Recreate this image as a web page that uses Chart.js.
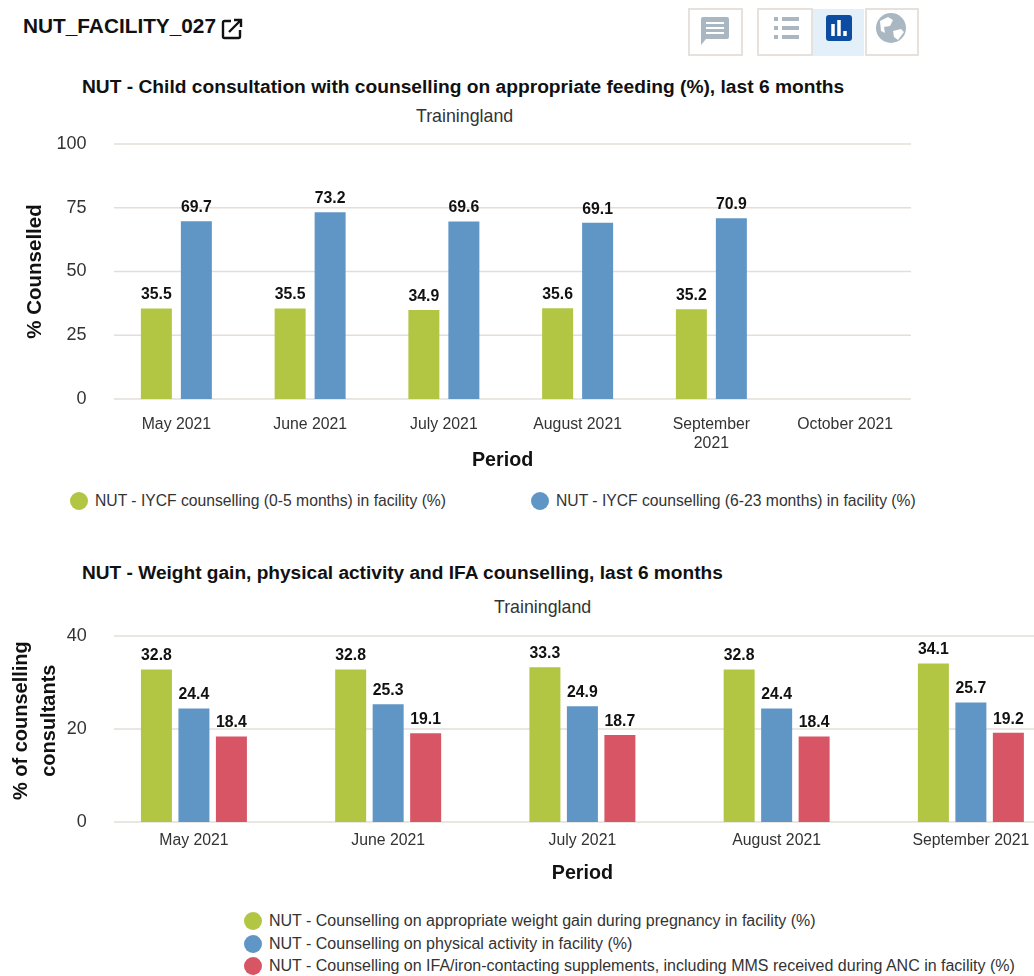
<!DOCTYPE html>
<html>
<head>
<meta charset="utf-8">
<title>NUT_FACILITY_027</title>
<script src="https://cdn.jsdelivr.net/npm/chart.js@4"></script>
<style>
  html, body { margin: 0; padding: 0; background: #fff; overflow: hidden; }
  body { width: 1034px; height: 976px; position: relative; font-family: "Liberation Sans", sans-serif; color: #111; }
  .abs { position: absolute; white-space: nowrap; }
  canvas { position: absolute; left: 0; }
  .btn { position: absolute; top: 8px; height: 44px; border: 2px solid #e6e1dc; background: #fff; }
  .dot { display: inline-block; width: 18px; height: 18px; border-radius: 50%; }
  .leg { color: #333; line-height: 18px; display: flex; align-items: center; gap: 7px; }
  .legA { font-size: 15.700px; }
  .legB { font-size: 16px; }
</style>
</head>
<body>
<div class="abs" style="left:23px;top:13px;font-size:20.800px;font-weight:bold;line-height:26px">NUT_FACILITY_027</div>
<svg class="abs" style="left:220px;top:17px" width="24" height="24" viewBox="0 0 24 24" fill="none" stroke="#111" stroke-width="2.400">
  <path d="M11 4H4.500a1.500 1.500 0 0 0-1.500 1.500v14a1.500 1.500 0 0 0 1.500 1.500h14a1.500 1.500 0 0 0 1.500-1.500V13"/>
  <path d="M9 15L21 3M14 3h7v7"/>
</svg>

<div class="btn" style="left:688px;width:51px"><svg width="51" height="44"><path d="M13 7h24a2 2 0 0 1 2 2v18a2 2 0 0 1-2 2H16l-5 6V9a2 2 0 0 1 2-2z" fill="#a9b7c3"/><path d="M16 13h18M16 18h18M16 23h18" stroke="#fff" stroke-width="2"/></svg></div>
<div class="btn" style="left:757px;width:52px"><svg width="52" height="44"><path d="M15 9h4M23 9h17M15 18h4M23 18h17M15 27h4M23 27h17" stroke="#a9b7c3" stroke-width="4"/></svg></div>
<div class="abs" style="left:813px;top:9px;width:51px;height:47px;background:#e3f0fa"><svg width="51" height="47"><rect x="13" y="6" width="26" height="26" rx="3" fill="#0c4da2"/><path d="M20 15v12M26 11v16M32 22v5" stroke="#fff" stroke-width="3.500"/></svg></div>
<div class="btn" style="left:865px;width:50px"><svg width="50" height="44"><circle cx="24" cy="18" r="15" fill="#a9b7c3"/><path d="M13 11l8-4 5 3-3 6-6 1 1 6-4-2zM26 21l8-2 3 3-6 8-4-3z" fill="#fff"/></svg></div>

<div class="abs" style="left:82px;top:76px;font-size:19.200px;font-weight:bold;line-height:22px">NUT - Child consultation with counselling on appropriate feeding (%), last 6 months</div>
<div class="abs" style="left:416px;top:105px;font-size:17.800px;color:#333;line-height:22px">Trainingland</div>

<canvas id="feedingChart" style="top:130px"></canvas>

<div class="abs leg legA" style="left:70px;top:492px"><span class="dot" id="legA0"></span><span id="legA0t"></span></div>
<div class="abs leg legA" style="left:531px;top:492px"><span class="dot" id="legA1"></span><span id="legA1t"></span></div>

<div class="abs" style="left:82px;top:562px;font-size:19.100px;font-weight:bold;line-height:22px">NUT - Weight gain, physical activity and IFA counselling, last 6 months</div>
<div class="abs" style="left:494px;top:596px;font-size:17.800px;color:#333;line-height:22px">Trainingland</div>

<canvas id="weightChart" style="top:620px"></canvas>

<div class="abs leg legB" style="left:244px;top:912px"><span class="dot" id="legB0"></span><span id="legB0t"></span></div>
<div class="abs leg legB" style="left:244px;top:935px"><span class="dot" id="legB1"></span><span id="legB1t"></span></div>
<div class="abs leg legB" style="left:244px;top:957px"><span class="dot" id="legB2"></span><span id="legB2t"></span></div>

<script>
const feedingPeriods = ['May 2021', 'June 2021', 'July 2021', 'August 2021', ['September', '2021'], 'October 2021'];
const iycf05 = [35.5, 35.5, 34.9, 35.6, 35.2, null];
const iycf623 = [69.7, 73.2, 69.6, 69.1, 70.9, null];
const feedingTicks = [0, 25, 50, 75, 100];

const weightPeriods = ['May 2021', 'June 2021', 'July 2021', 'August 2021', 'September 2021'];
const weightGain = [32.8, 32.8, 33.3, 32.8, 34.1];
const physicalActivity = [24.4, 25.3, 24.9, 24.4, 25.7];
const ifaSupplements = [18.4, 19.1, 18.7, 18.4, 19.2];
const weightTicks = [0, 20, 40];

const feedingNames = ['NUT - IYCF counselling (0-5 months) in facility (%)', 'NUT - IYCF counselling (6-23 months) in facility (%)'];
const weightNames = [
  'NUT - Counselling on appropriate weight gain during pregnancy in facility (%)',
  'NUT - Counselling on physical activity in facility (%)',
  'NUT - Counselling on IFA/iron-contacting supplements, including MMS received during ANC in facility (%)'
];

const GREEN = '#b2c644', BLUE = '#6096c6', RED = '#d85565';
const FONT = '"Liberation Sans", sans-serif';
const GRID = '#e3ded9';
Chart.defaults.font.family = FONT;
Chart.defaults.animation = false;

// values over the bars
const valueLabels = {
  id: 'valueLabels',
  afterDatasetsDraw(chart) {
    const ctx = chart.ctx;
    ctx.save();
    ctx.font = 'bold 15.800px ' + FONT;
    ctx.fillStyle = '#111';
    ctx.textAlign = 'center';
    ctx.textBaseline = 'bottom';
    chart.data.datasets.forEach((ds, i) => {
      chart.getDatasetMeta(i).data.forEach((bar, j) => {
        if (ds.data[j] != null) ctx.fillText(ds.data[j].toFixed(1), bar.x, bar.y - 5.5);
      });
    });
    ctx.restore();
  }
};

// grid starts a bit right of the first band, so the lines are drawn here
const gridLines = {
  id: 'gridLines',
  beforeDatasetsDraw(chart, args, opts) {
    const ctx = chart.ctx, y = chart.scales.y;
    ctx.save();
    ctx.strokeStyle = GRID;
    ctx.lineWidth = 1.5;
    y.ticks.forEach(t => {
      const py = y.getPixelForValue(t.value);
      ctx.beginPath();
      ctx.moveTo(opts.from, py);
      ctx.lineTo(opts.to, py);
      ctx.stroke();
    });
    ctx.restore();
  }
};

function makeChart(id, w, h, cfg) {
  const el = document.getElementById(id);
  el.width = w; el.height = h;
  el.style.width = w + 'px'; el.style.height = h + 'px';
  return new Chart(el, {
    type: 'bar',
    data: { labels: cfg.labels, datasets: cfg.datasets },
    plugins: [valueLabels, gridLines],
    options: {
      responsive: false,
      devicePixelRatio: 1,
      layout: { padding: cfg.padding },
      plugins: { legend: { display: false }, tooltip: { enabled: false }, gridLines: cfg.grid },
      datasets: { bar: { categoryPercentage: cfg.catPct, barPercentage: cfg.barPct } },
      scales: {
        x: {
          grid: { display: false },
          border: { display: false },
          afterFit: s => { s.height = cfg.xHeight; s.paddingLeft = 0; s.paddingRight = 0; },
          ticks: { color: '#333', font: { size: 15.8 }, maxRotation: 0, autoSkip: false, padding: cfg.xTickPad },
          title: { display: true, text: cfg.xTitle, color: '#111', font: { size: 19.7, weight: 'bold' }, padding: { top: 6 } }
        },
        y: {
          min: 0,
          max: cfg.yMax,
          afterFit: s => { s.width = cfg.yWidth; s.paddingTop = 0; s.paddingBottom = 0; },
          afterBuildTicks: s => { s.ticks = cfg.yTicks.map(v => ({ value: v })); },
          grid: { display: false },
          border: { display: false },
          ticks: { color: '#333', font: { size: 18 }, padding: cfg.yTickPad },
          title: { display: true, text: cfg.yTitle, color: '#111', font: { size: cfg.yTitleSize, weight: 'bold', lineHeight: cfg.yTitleLine }, padding: { top: cfg.yTitlePad, bottom: 0 } }
        }
      }
    }
  });
}

makeChart('feedingChart', 1034, 346, {
  labels: feedingPeriods,
  datasets: [
    { data: iycf05, backgroundColor: GREEN },
    { data: iycf623, backgroundColor: BLUE }
  ],
  padding: { top: 14, right: 122, left: 0, bottom: 0 },
  catPct: 0.598, barPct: 0.775,
  xHeight: 77, yWidth: 109.500,
  xTickPad: 8, yTickPad: 15,
  yMax: 100, yTicks: feedingTicks,
  xTitle: 'Period\u00a0\u00a0\u00a0', yTitle: '% Counselled',
  yTitleSize: 20.500, yTitleLine: 1.2, yTitlePad: 23,
  grid: { from: 114, to: 911 }
});

makeChart('weightChart', 1100, 269, {
  labels: weightPeriods,
  datasets: [
    { data: weightGain, backgroundColor: GREEN },
    { data: physicalActivity, backgroundColor: BLUE },
    { data: ifaSupplements, backgroundColor: RED }
  ],
  padding: { top: 16, right: 32, left: 0, bottom: 0 },
  catPct: 0.579, barPct: 0.827,
  xHeight: 67, yWidth: 96.800,
  xTickPad: 1, yTickPad: 2,
  yMax: 40, yTicks: weightTicks,
  xTitle: 'Period', yTitle: ['\u00a0\u00a0\u00a0% of counselling', '\u00a0\u00a0\u00a0consultants'],
  yTitleSize: 20, yTitleLine: 1.4, yTitlePad: 7,
  grid: { from: 114, to: 1034 }
});

// legends
feedingNames.forEach((n, i) => {
  document.getElementById('legA' + i).style.background = [GREEN, BLUE][i];
  document.getElementById('legA' + i + 't').textContent = n;
});
weightNames.forEach((n, i) => {
  document.getElementById('legB' + i).style.background = [GREEN, BLUE, RED][i];
  document.getElementById('legB' + i + 't').textContent = n;
});
</script>
</body>
</html>
